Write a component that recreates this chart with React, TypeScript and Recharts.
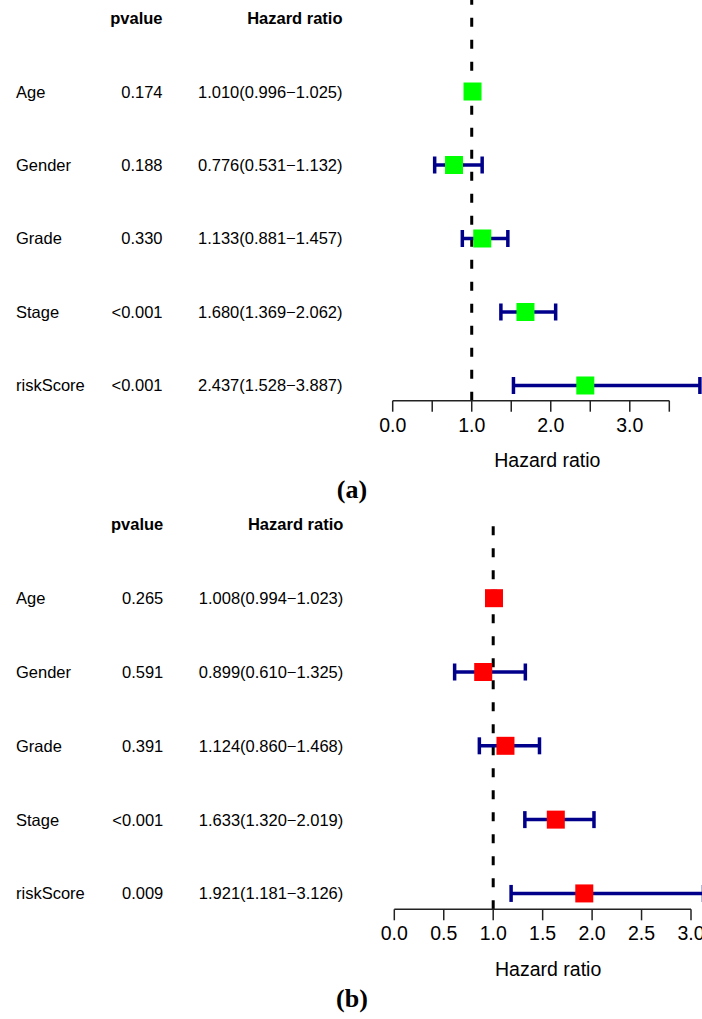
import { ScatterChart, Scatter, XAxis, YAxis, ErrorBar, ReferenceLine } from "recharts";

// shared row labels
const variables = ["Age", "Gender", "Grade", "Stage", "riskScore"];

// panel (a) – univariate
const pvalueA = ["0.174", "0.188", "0.330", "<0.001", "<0.001"];
const hrA = [1.01, 0.776, 1.133, 1.68, 2.437];
const lowA = [0.996, 0.531, 0.881, 1.369, 1.528];
const highA = [1.025, 1.132, 1.457, 2.062, 3.887];
const ticksA = [0, 0.5, 1, 1.5, 2, 2.5, 3, 3.5];
const labelledA = [0, 1, 2, 3];

// panel (b) – multivariate
const pvalueB = ["0.265", "0.591", "0.391", "<0.001", "0.009"];
const hrB = [1.008, 0.899, 1.124, 1.633, 1.921];
const lowB = [0.994, 0.61, 0.86, 1.32, 1.181];
const highB = [1.023, 1.325, 1.468, 2.019, 3.126];
const ticksB = [0, 0.5, 1, 1.5, 2, 2.5, 3];
const labelledB = [0, 0.5, 1, 1.5, 2, 2.5, 3];

const CI_COLOR = "#00008B";
const AXIS_COLOR = "#222";

interface PanelProps {
  pvalues: string[];
  hr: number[];
  low: number[];
  high: number[];
  ticks: number[];
  labelled: number[];
  boxColor: string;
  xMax: number; // right edge of plot area, in HR units
  axisMax: number; // last tick on the axis line
  yTop: number;
  yBottom: number;
  plotLeft: number;
  marginTop: number;
  height: number;
  pRight: number;
  hrRight: number;
}

const fmt = (v: number) => v.toFixed(3);

const AxisTitle = ({ viewBox }: any) => {
  if (!viewBox) return null;
  return (
    <text
      x={viewBox.x + viewBox.width / 2}
      y={viewBox.y + 59.5}
      textAnchor="middle"
      dominantBaseline="central"
      fontSize={19.5}
      fill="#000"
    >
      Hazard ratio
    </text>
  );
};

function ForestPanel(props: PanelProps) {
  const { pvalues, hr, low, high, ticks, labelled, boxColor, xMax, axisMax, yTop, yBottom, plotLeft, marginTop, height, pRight, hrRight } = props;

  const rows = hr.map((v, i) => ({
    row: i + 1,
    hr: v,
    err: [v - low[i], high[i] - v],
  }));

  // left-hand table: variable, p value, HR (95% CI)
  const rowTick = ({ y, payload }: any) => {
    const i = payload.value as number;
    if (i === 0) {
      return (
        <g>
          <text x={pRight} y={y} textAnchor="end" dominantBaseline="central" fontSize={16.5} fontWeight="bold" fill="#000">
            pvalue
          </text>
          <text x={hrRight} y={y} textAnchor="end" dominantBaseline="central" fontSize={16.5} fontWeight="bold" fill="#000">
            Hazard ratio
          </text>
        </g>
      );
    }
    const k = i - 1;
    return (
      <g>
        <text x={16} y={y} textAnchor="start" dominantBaseline="central" fontSize={16.5} fill="#000">
          {variables[k]}
        </text>
        <text x={pRight} y={y} textAnchor="end" dominantBaseline="central" fontSize={16.5} fill="#000">
          {pvalues[k]}
        </text>
        <text x={hrRight} y={y} textAnchor="end" dominantBaseline="central" fontSize={16.5} fill="#000">
          {`${fmt(hr[k])}(${fmt(low[k])}−${fmt(high[k])})`}
        </text>
      </g>
    );
  };

  const hrTick = ({ x, y, payload }: any) => {
    const v = payload.value as number;
    if (!labelled.includes(v)) return <g />;
    return (
      <text x={x} y={y + 13} textAnchor="middle" dominantBaseline="central" fontSize={19.5} fill="#000">
        {v.toFixed(1)}
      </text>
    );
  };

  return (
    <ScatterChart width={702} height={height} margin={{ top: marginTop, right: 0, bottom: 0, left: 0 }}>
      <XAxis
        type="number"
        dataKey="hr"
        domain={[0, xMax]}
        allowDataOverflow
        ticks={ticks}
        interval={0}
        axisLine={false}
        tickSize={11}
        tickMargin={0}
        tickLine={{ stroke: AXIS_COLOR, strokeWidth: 1.5 }}
        tick={hrTick}
        height={height - marginTop - (yBottom - yTop) * 0 - plotHeight(props)}
        label={<AxisTitle />}
      />
      <YAxis
        type="number"
        dataKey="row"
        domain={[yTop, yBottom]}
        reversed
        allowDataOverflow
        ticks={[0, 1, 2, 3, 4, 5]}
        interval={0}
        width={plotLeft}
        axisLine={false}
        tickLine={false}
        tick={rowTick}
      />
      <ReferenceLine x={1} stroke="#000" strokeWidth={3} strokeDasharray="9 13" />
      <ReferenceLine
        segment={[
          { x: 0, y: yBottom },
          { x: axisMax, y: yBottom },
        ]}
        stroke={AXIS_COLOR}
        strokeWidth={1.5}
        ifOverflow="visible"
      />
      <Scatter
        data={rows}
        isAnimationActive={false}
        shape={(p: any) => <rect x={p.cx - 9} y={p.cy - 9} width={18} height={18} fill={boxColor} />}
      >
        <ErrorBar dataKey="err" direction="x" width={8.5} stroke={CI_COLOR} strokeWidth={3.5} isAnimationActive={false} />
      </Scatter>
    </ScatterChart>
  );
}

// pixel height of the plot area for each panel
function plotHeight(p: PanelProps) {
  return p.axisPx - p.marginTop;
}

export default function App() {
  return (
    <div
      style={{
        position: "absolute",
        left: 0,
        top: 0,
        width: 702,
        height: 1019,
        background: "#fff",
        fontFamily: "'Liberation Sans', Arial, sans-serif",
        overflow: "hidden",
      }}
    >
      <div style={{ position: "absolute", left: 0, top: 0 }}>
        <ForestPanel
          {...({ axisPx: 400.7 } as any)}
          pvalues={pvalueA}
          hr={hrA}
          low={lowA}
          high={highA}
          ticks={ticksA}
          labelled={labelledA}
          boxColor="#00FF00"
          xMax={(702 - 392.7) / 79.03}
          axisMax={3.5}
          yTop={-0.245}
          yBottom={5.207}
          plotLeft={392.7}
          marginTop={0}
          height={480}
          pRight={162.5}
          hrRight={342.5}
        />
      </div>
      <div
        style={{
          position: "absolute",
          left: 302,
          top: 475,
          width: 100,
          height: 30,
          lineHeight: "30px",
          textAlign: "center",
          fontFamily: "'Liberation Serif', 'Times New Roman', serif",
          fontWeight: "bold",
          fontSize: 26,
        }}
      >
        (a)
      </div>
      <div style={{ position: "absolute", left: 0, top: 500 }}>
        <ForestPanel
          {...({ axisPx: 409.3 } as any)}
          pvalues={pvalueB}
          hr={hrB}
          low={lowB}
          high={highB}
          ticks={ticksB}
          labelled={labelledB}
          boxColor="#FF0000"
          xMax={(702 - 394.3) / 98.9}
          axisMax={3}
          yTop={-0.104}
          yBottom={5.215}
          plotLeft={394.3}
          marginTop={16.7}
          height={490}
          pRight={163.3}
          hrRight={343.3}
        />
      </div>
      <div
        style={{
          position: "absolute",
          left: 302,
          top: 984,
          width: 100,
          height: 30,
          lineHeight: "30px",
          textAlign: "center",
          fontFamily: "'Liberation Serif', 'Times New Roman', serif",
          fontWeight: "bold",
          fontSize: 26,
        }}
      >
        (b)
      </div>
    </div>
  );
}
